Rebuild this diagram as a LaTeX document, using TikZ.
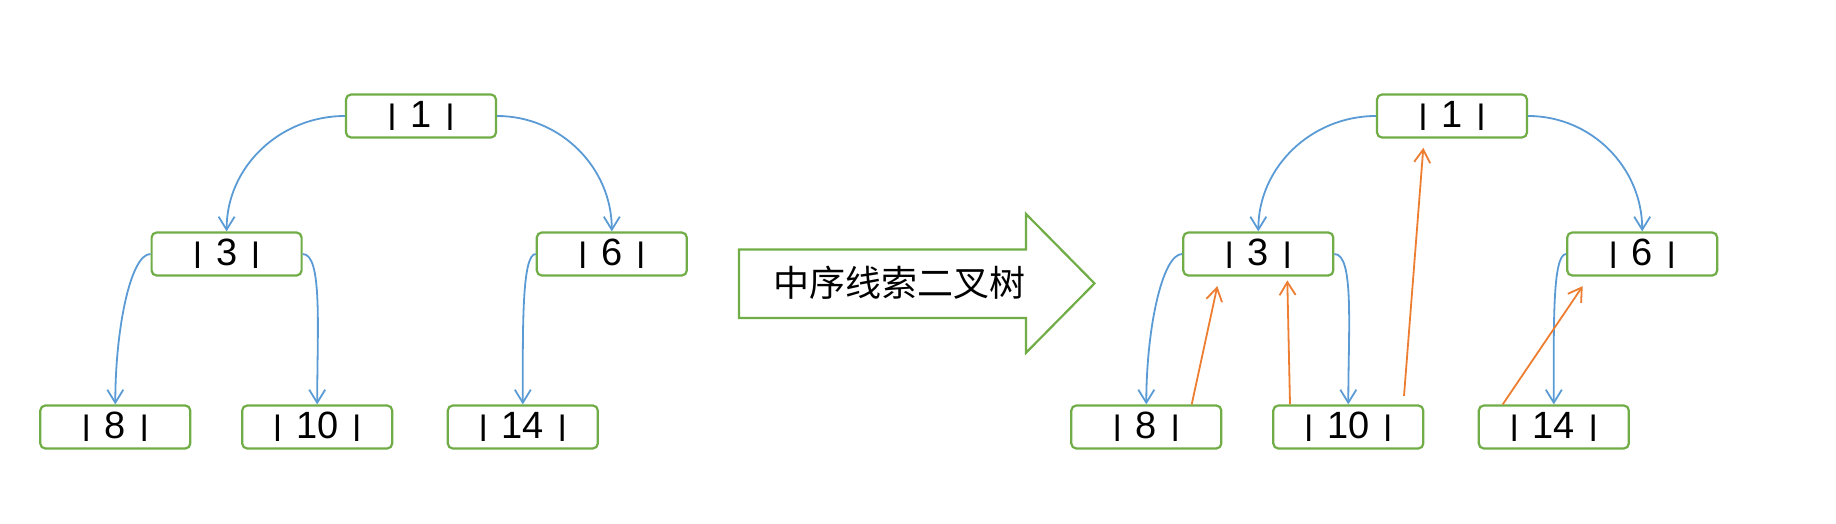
\documentclass[tikz,border=0pt]{standalone}
\usepackage{fontspec}
\usepackage{graphicx}
\setmainfont{Liberation Sans}
\newfontfamily\cjkfont{Noto Sans CJK SC}
\usetikzlibrary{arrows.meta}
\definecolor{tgreen}{HTML}{70AD47}
\definecolor{tblue}{HTML}{5B9BD5}
\definecolor{torange}{HTML}{ED7D31}
\newcommand\vbarx{\raisebox{3.35pt}{\scalebox{1}[0.745]{|}}}
\newcommand\nval[1]{\vbarx\hspace{13.5pt}#1\hspace{13.5pt}\vbarx}
\begin{document}
\begin{tikzpicture}[x=1pt,y=-1pt,
  tnode/.style={draw=tgreen, line width=2.2pt, rounded corners=5pt, minimum width=150pt, minimum height=43pt, inner sep=0pt, fill=white, font=\fontsize{38pt}{40pt}\selectfont},
  blink/.style={draw=tblue, line width=1.8pt, -{Straight Barb[length=13pt,width=16pt]}},
  olink/.style={draw=torange, line width=1.8pt, -{Straight Barb[length=13pt,width=16pt]}},
  bigarrow/.style={draw=tgreen, line width=2.2pt, fill=white}
]
\useasboundingbox (0,0) rectangle (1836,524);

% left tree
\node[tnode] (L1) at (421,116) {\nval{1}};
\node[tnode] (L3) at (226.6,254) {\nval{3}};
\node[tnode] (L6) at (611.8,254) {\nval{6}};
\node[tnode] (L8) at (115.3,427) {\nval{8}};
\node[tnode] (L10) at (317.2,427) {\nval{10}};
\node[tnode] (L14) at (522.8,427) {\nval{14}};

\draw[blink] (L1.west) to[out=180,in=90] (L3.north);
\draw[blink] (L1.east) to[out=0,in=90] (L6.north);
\draw[blink] (L3.west) .. controls +(-20,0) and +(0,-75) .. (L8.north);
\draw[blink] (L3.east) .. controls +(20,0) and +(0,-75) .. (L10.north);
\draw[blink] (L6.west) .. controls +(-14,0) and +(0,-75) .. (L14.north);

% block arrow
\draw[bigarrow] (739,249.4) -- (1026,249.4) -- (1026,214) -- (1094.5,283.4) -- (1026,352.8) -- (1026,318) -- (739,318) -- cycle;
\node (T) at (899,283) {\cjkfont\fontsize{36pt}{38pt}\selectfont 中序线索二叉树};

% right tree
\node[tnode] (R1) at (1452,116) {\nval{1}};
\node[tnode] (R3) at (1258.3,254) {\nval{3}};
\node[tnode] (R6) at (1642.2,254) {\nval{6}};
\node[tnode] (R8) at (1146.3,427) {\nval{8}};
\node[tnode] (R10) at (1348.3,427) {\nval{10}};
\node[tnode] (R14) at (1553.8,427) {\nval{14}};

\draw[blink] (R1.west) to[out=180,in=90] (R3.north);
\draw[blink] (R1.east) to[out=0,in=90] (R6.north);
\draw[blink] (R3.west) .. controls +(-20,0) and +(0,-75) .. (R8.north);
\draw[blink] (R3.east) .. controls +(20,0) and +(0,-75) .. (R10.north);
\draw[blink] (R6.west) .. controls +(-14,0) and +(0,-75) .. (R14.north);

% thread links
\coordinate (o1s) at ([xshift=45.4pt]R8.north);
\coordinate (o1e) at ([xshift=-41pt,yshift=-9.5pt]R3.south);
\coordinate (o2s) at ([xshift=-58.3pt]R10.north);
\coordinate (o2e) at ([xshift=29pt,yshift=-3.8pt]R3.south);
\coordinate (o3s) at ([xshift=55.7pt,yshift=8.5pt]R10.north);
\coordinate (o3e) at ([xshift=-28.7pt,yshift=-9.2pt]R1.south);
\coordinate (o4s) at ([xshift=-51.1pt]R14.north);
\coordinate (o4e) at ([xshift=-59.5pt,yshift=-9.5pt]R6.south);
\draw[olink] (o1s) -- (o1e);
\draw[olink] (o2s) -- (o2e);
\draw[olink] (o3s) -- (o3e);
\draw[olink] (o4s) -- (o4e);
\end{tikzpicture}
\end{document}
